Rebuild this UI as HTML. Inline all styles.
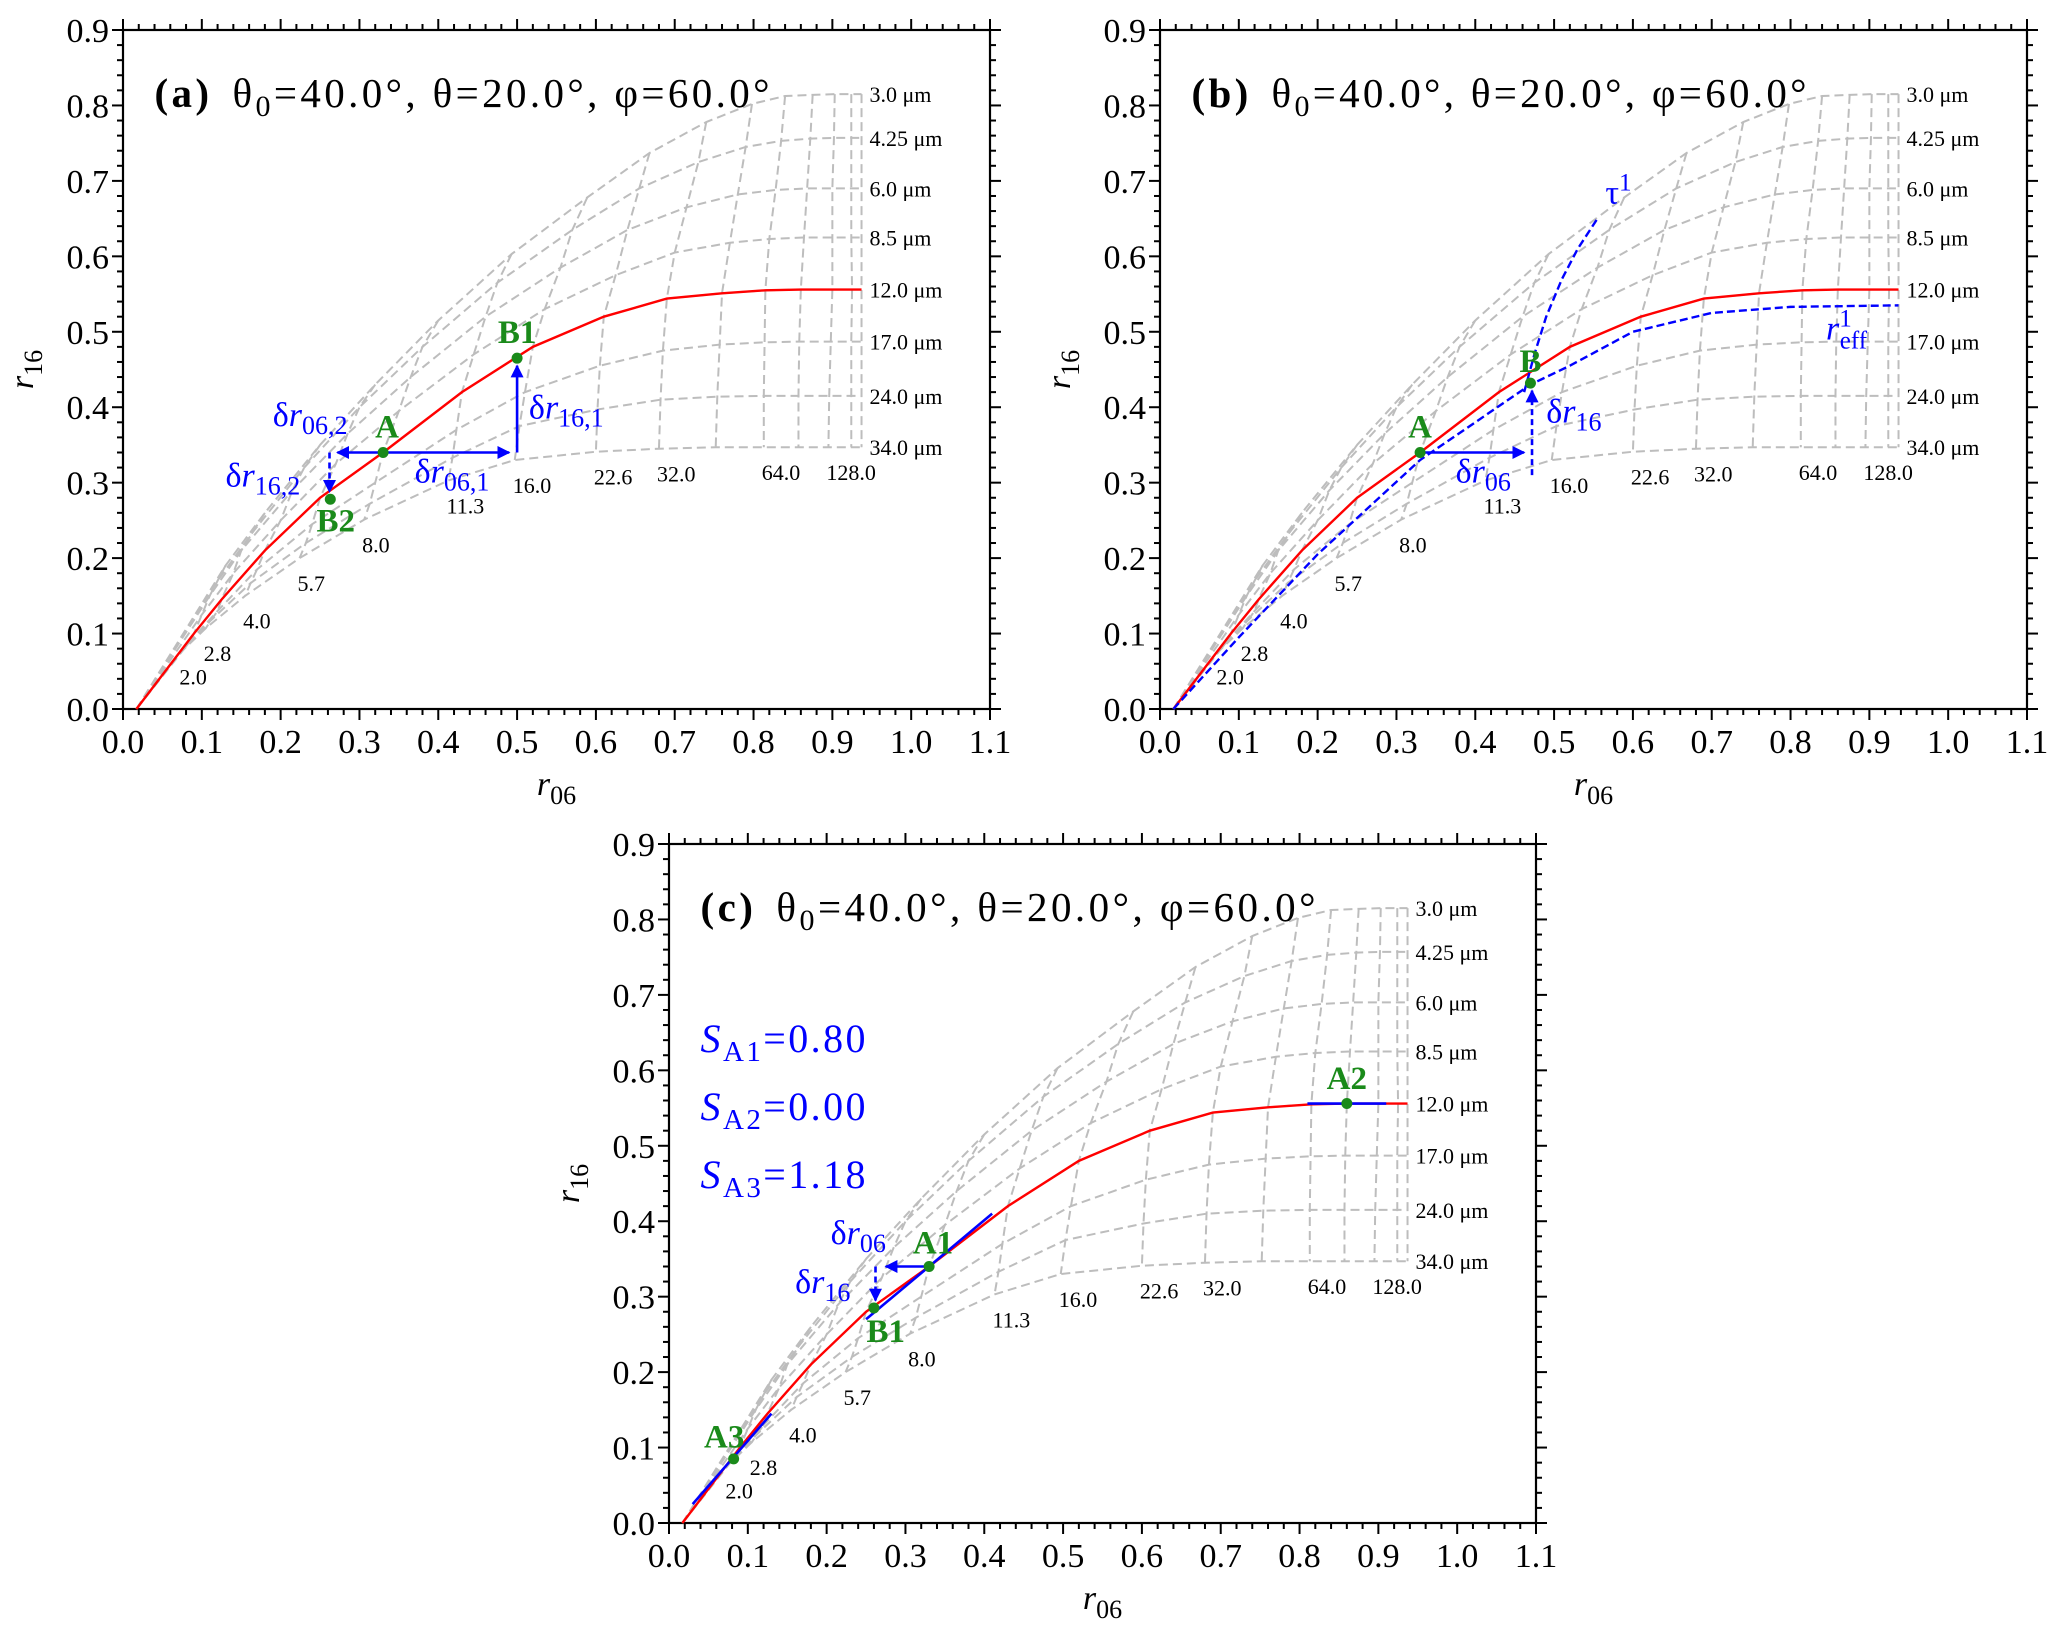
<!DOCTYPE html>
<html><head><meta charset="utf-8">
<style>
html,body{margin:0;padding:0;background:#fff;}
svg{display:block;font-family:"Liberation Serif",serif;}
</style></head>
<body>
<svg id="fig" width="2067" height="1628" viewBox="0 0 2067 1628" xmlns="http://www.w3.org/2000/svg">
<defs>
<marker id="ah" viewBox="0 0 10 10" refX="9" refY="5" markerWidth="5" markerHeight="5" orient="auto" markerUnits="strokeWidth"><path d="M0,0 L10,5 L0,10 z" fill="#0000ff"/></marker>
</defs>
</svg>
<script>
const reffLabels = ['3.0','4.25','6.0','8.5','12.0','17.0','24.0','34.0'];
const tauValues = [2.0,2.8,4.0,5.7,8.0,11.3,16.0,22.6,32.0,45.3,64.0,90.5,128.0,181.0,256.0];
const tauLabels = ['2.0','2.8','4.0','5.7','8.0','11.3','16.0','22.6','32.0','','64.0','','128.0','',''];
const originPoint = [0.017, 0.0];
const r06Grid = [
 [0.13,0.18,0.25,0.32,0.40,0.493,0.589,0.668,0.74,0.798,0.84,0.875,0.903,0.924,0.937],
 [0.12,0.165,0.23,0.30,0.38,0.475,0.57,0.655,0.73,0.79,0.835,0.872,0.902,0.924,0.937],
 [0.11,0.15,0.215,0.285,0.365,0.46,0.555,0.64,0.715,0.78,0.828,0.868,0.9,0.924,0.937],
 [0.10,0.14,0.2,0.27,0.35,0.445,0.535,0.625,0.70,0.77,0.82,0.864,0.9,0.924,0.937],
 [0.09,0.125,0.18,0.25,0.33,0.43,0.52,0.61,0.69,0.76,0.815,0.86,0.9,0.925,0.937],
 [0.085,0.12,0.17,0.24,0.32,0.423,0.51,0.605,0.685,0.757,0.814,0.858,0.898,0.924,0.937],
 [0.08,0.112,0.162,0.232,0.313,0.418,0.503,0.602,0.682,0.754,0.813,0.857,0.896,0.924,0.937],
 [0.074,0.105,0.155,0.224,0.306,0.413,0.497,0.6,0.68,0.752,0.813,0.857,0.895,0.924,0.937]
];
const r16Grid = [
 [0.19,0.26,0.35,0.43,0.515,0.603,0.678,0.737,0.778,0.802,0.8125,0.814,0.815,0.815,0.815],
 [0.17,0.235,0.32,0.40,0.48,0.565,0.635,0.69,0.725,0.745,0.753,0.756,0.757,0.757,0.757],
 [0.15,0.21,0.29,0.365,0.44,0.52,0.585,0.635,0.665,0.682,0.688,0.69,0.69,0.69,0.69],
 [0.125,0.18,0.25,0.325,0.395,0.47,0.53,0.575,0.605,0.618,0.623,0.625,0.625,0.625,0.625],
 [0.10,0.145,0.21,0.28,0.34,0.42,0.48,0.52,0.544,0.551,0.555,0.556,0.556,0.556,0.556],
 [0.09,0.13,0.185,0.245,0.3,0.37,0.42,0.455,0.475,0.483,0.486,0.487,0.487,0.487,0.487],
 [0.083,0.118,0.167,0.22,0.272,0.333,0.375,0.397,0.41,0.414,0.415,0.415,0.415,0.415,0.415],
 [0.076,0.107,0.15,0.2,0.251,0.303,0.33,0.341,0.345,0.347,0.347,0.347,0.347,0.347,0.347]
];
const redRow = 4;
const xTicks = [0.0,0.1,0.2,0.3,0.4,0.5,0.6,0.7,0.8,0.9,1.0,1.1];
const yTicks = [0.0,0.1,0.2,0.3,0.4,0.5,0.6,0.7,0.8,0.9];
const tauOneX = [0.462,0.475,0.49,0.51,0.53,0.555];
const tauOneY = [0.42,0.47,0.52,0.57,0.61,0.65];
const reffOneX = [0.017,0.1,0.2,0.33,0.47,0.52,0.6,0.7,0.8,0.937];
const reffOneY = [0.0,0.095,0.205,0.33,0.43,0.455,0.5,0.525,0.533,0.535];
const segA3 = [0.03,0.025,0.13,0.145];
const segA1 = [0.25,0.27,0.41,0.41];
const segA2 = [0.81,0.556,0.91,0.556];
const sValues = ['0.80','0.00','1.18'];

const NS='http://www.w3.org/2000/svg';
const svg=document.getElementById('fig');
function mk(tag,attrs,parent){const e=document.createElementNS(NS,tag);for(const k in attrs)e.setAttribute(k,attrs[k]);(parent||svg).appendChild(e);return e;}

function makePanel(name,left,top){
  const W=867,H=679;
  const sx=x=>left+x/1.1*W, sy=y=>top+H-y/0.9*H;
  const g=mk('g',{});
  
  
  const tg=mk('g',{stroke:'#000','stroke-width':2},g);
  for(let i=0;i<=55;i++){const x=i*0.02;const len=(i%5===0)?11:6;const px=sx(x);
    mk('line',{x1:px,y1:top+H,x2:px,y2:top+H+len},tg);mk('line',{x1:px,y1:top,x2:px,y2:top-len},tg);}
  for(let i=0;i<=45;i++){const y=i*0.02;const len=(i%5===0)?11:6;const py=sy(y);
    mk('line',{x1:left,y1:py,x2:left-len,y2:py},tg);mk('line',{x1:left+W,y1:py,x2:left+W+len,y2:py},tg);}
  const frame=mk('rect',{x:left,y:top,width:W,height:H,fill:'none',stroke:'#000','stroke-width':2.2},g);
  
  
  xTicks.forEach(v=>{const t=mk('text',{x:sx(v),y:top+H+44,'font-size':34,'text-anchor':'middle'},g);t.textContent=v.toFixed(1);
    });
  yTicks.forEach(v=>{const t=mk('text',{x:left-14,y:sy(v)+12,'font-size':34,'text-anchor':'end'},g);t.textContent=v.toFixed(1);
    });
  const xl=mk('text',{x:left+W/2,y:top+H+86,'font-size':34,'text-anchor':'middle'},g);
  xl.innerHTML='<tspan font-style="italic">r</tspan><tspan font-size="26" dy="9">06</tspan>';
  
  const yl=mk('text',{transform:`translate(${left-90},${top+H/2}) rotate(-90)`,'font-size':34,'text-anchor':'middle'},g);
  yl.innerHTML='<tspan font-style="italic">r</tspan><tspan font-size="26" dy="9">16</tspan>';
  
  return {g,sx,sy,left,top,W,H};
}

function drawGrid(p){
  const gg=mk('g',{fill:'none',stroke:'#bdbdbd','stroke-width':2,'stroke-dasharray':'9,5'},p.g);
  
  for(let r=0;r<reffLabels.length;r++){
    const pts=[[originPoint[0],originPoint[1]]];
    for(let c=0;c<tauValues.length;c++)pts.push([r06Grid[r][c],r16Grid[r][c]]);
    const pl=mk('polyline',{points:pts.map(q=>p.sx(q[0])+','+p.sy(q[1])).join(' ')},gg);
    
    const lastX=r06Grid[r][tauValues.length-1], lastY=r16Grid[r][tauValues.length-1];
    const t=mk('text',{x:p.sx(lastX)+8,y:p.sy(lastY)+8,'font-size':22,fill:'#000',stroke:'none'},p.g);
    t.textContent=reffLabels[r]+' μm';
    
  }
  for(let c=0;c<tauValues.length;c++){
    const pts=[];for(let r=0;r<reffLabels.length;r++)pts.push([r06Grid[r][c],r16Grid[r][c]]);
    const pl=mk('polyline',{points:pts.map(q=>p.sx(q[0])+','+p.sy(q[1])).join(' ')},gg);
    
    if(tauLabels[c]){const b=reffLabels.length-1;
      const t=mk('text',{x:p.sx(r06Grid[b][c])-2,y:p.sy(r16Grid[b][c]-0.033)+8,'font-size':22,fill:'#000'},p.g);
      t.textContent=tauLabels[c];
      }
  }
  const pts=[[originPoint[0],originPoint[1]]];
  for(let c=0;c<tauValues.length;c++)pts.push([r06Grid[redRow][c],r16Grid[redRow][c]]);
  const red=mk('polyline',{points:pts.map(q=>p.sx(q[0])+','+p.sy(q[1])).join(' '),fill:'none',stroke:'#ff0000','stroke-width':2.4},p.g);
  
}

function title(p,letter){
  const t=mk('text',{x:p.sx(0.04),y:p.sy(0.815)+13,'font-size':41,textLength:615,lengthAdjust:'spacing'},p.g);
  t.innerHTML=`<tspan font-weight="bold">(${letter})</tspan><tspan dx="20">θ</tspan><tspan font-size="30" dy="9">0</tspan><tspan dy="-9">=40.0°, θ=20.0°, φ=60.0°</tspan>`;
  
}
function dot(p,x,y,label,lx,ly,name){
  const c=mk('circle',{cx:p.sx(x),cy:p.sy(y),r:5.5,fill:'#1a8a1a'},p.g);
  
  const t=mk('text',{x:p.sx(lx),y:p.sy(ly),'font-size':33,'font-weight':'bold',fill:'#1a8a1a','text-anchor':'middle'},p.g);
  t.textContent=label;
}
function arrow(p,x0,y0,x1,y1,dashed,name){
  const a={x1:p.sx(x0),y1:p.sy(y0),x2:p.sx(x1),y2:p.sy(y1),stroke:'#0000ff','stroke-width':2.6,'marker-end':'url(#ah)'};
  if(dashed)a['stroke-dasharray']='6,4';
  const l=mk('line',a,p.g);
}
function btext(p,x,y,sub,name){
  const t=mk('text',{x:p.sx(x),y:p.sy(y),'font-size':34,fill:'#0000ff'},p.g);
  t.innerHTML='δ<tspan font-style="italic">r</tspan>'+`<tspan font-size="26" dy="8">${sub}</tspan>`;
  
}

const pa=makePanel('panel-a',123,30);
drawGrid(pa);title(pa,'a');
arrow(pa,0.33,0.34,0.49,0.34,false,'delta-r06-1-arrow');
arrow(pa,0.50,0.34,0.50,0.455,false,'delta-r16-1-arrow');
arrow(pa,0.33,0.34,0.272,0.34,false,'delta-r06-2-arrow');
arrow(pa,0.262,0.34,0.262,0.288,true,'delta-r16-2-arrow');
dot(pa,0.33,0.34,'A',0.335,0.36,'a');
dot(pa,0.50,0.465,'B1',0.50,0.485,'b1');
dot(pa,0.263,0.278,'B2',0.27,0.235,'b2');
btext(pa,0.19,0.375,'06,2','delta-r06-2-label');
btext(pa,0.13,0.295,'16,2','delta-r16-2-label');
btext(pa,0.37,0.3,'06,1','delta-r06-1-label');
btext(pa,0.515,0.385,'16,1','delta-r16-1-label');

const pb=makePanel('panel-b',1160,30);
drawGrid(pb);title(pb,'b');
const t1=mk('polyline',{points:tauOneX.map((x,i)=>pb.sx(x)+','+pb.sy(tauOneY[i])).join(' '),fill:'none',stroke:'#0000ff','stroke-width':2.4,'stroke-dasharray':'8,4'},pb.g);

const r1=mk('polyline',{points:reffOneX.map((x,i)=>pb.sx(x)+','+pb.sy(reffOneY[i])).join(' '),fill:'none',stroke:'#0000ff','stroke-width':2.4,'stroke-dasharray':'8,4'},pb.g);

arrow(pb,0.33,0.34,0.462,0.34,false,'delta-r06-arrow');
arrow(pb,0.472,0.31,0.472,0.422,true,'delta-r16-arrow');
dot(pb,0.33,0.34,'A',0.33,0.36,'a');
dot(pb,0.47,0.432,'B',0.47,0.447,'b');
btext(pb,0.375,0.3,'06','delta-r06-label');
btext(pb,0.49,0.38,'16','delta-r16-label');
const tl=mk('text',{x:pb.sx(0.565),y:pb.sy(0.67),'font-size':34,fill:'#0000ff'},pb.g);
tl.innerHTML='τ<tspan font-size="25" dy="-13">1</tspan>';

const rl=mk('text',{x:pb.sx(0.845),y:pb.sy(0.49),'font-size':34,fill:'#0000ff'},pb.g);
rl.innerHTML='<tspan font-style="italic">r</tspan><tspan font-size="25" dy="-13">1</tspan><tspan font-size="25" dx="-12" dy="22">eff</tspan>';


const pc=makePanel('panel-c',669,844);
drawGrid(pc);title(pc,'c');
[segA3,segA1,segA2].forEach((s,i)=>{const l=mk('line',{x1:pc.sx(s[0]),y1:pc.sy(s[1]),x2:pc.sx(s[2]),y2:pc.sy(s[3]),stroke:'#0000ff','stroke-width':2.6},pc.g);
  });
arrow(pc,0.33,0.34,0.275,0.34,false,'delta-r06-arrow');
arrow(pc,0.262,0.34,0.262,0.295,true,'delta-r16-arrow');
dot(pc,0.33,0.34,'A1',0.335,0.357,'a1');
dot(pc,0.26,0.285,'B1',0.275,0.24,'b1');
dot(pc,0.86,0.556,'A2',0.86,0.575,'a2');
dot(pc,0.082,0.085,'A3',0.07,0.1,'a3');
btext(pc,0.205,0.37,'06','delta-r06-label');
btext(pc,0.16,0.305,'16','delta-r16-label');
sValues.forEach((v,i)=>{const t=mk('text',{x:pc.sx(0.04),y:pc.sy(0.64-i*0.09)+12,'font-size':40,fill:'#0000ff',textLength:165,lengthAdjust:'spacing'},pc.g);
  t.innerHTML=`<tspan font-style="italic">S</tspan><tspan font-size="29" dy="9">A${i+1}</tspan><tspan dy="-9">=${v}</tspan>`;
  });
</script>
</body></html>
